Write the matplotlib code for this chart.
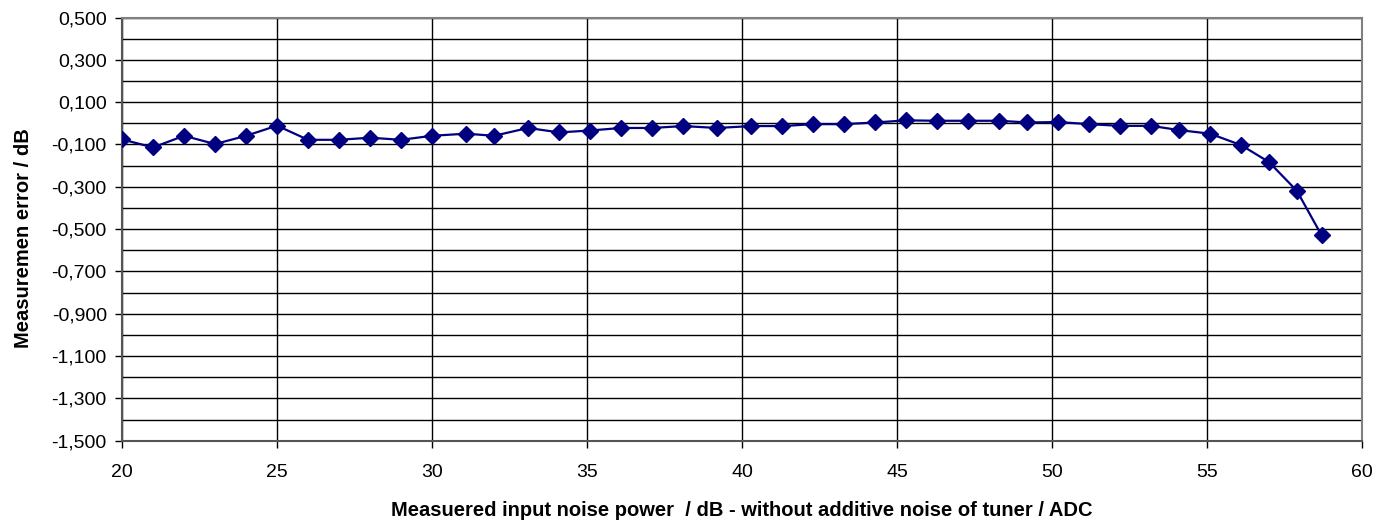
import matplotlib
matplotlib.use("Agg")
import matplotlib.pyplot as plt
from matplotlib.ticker import FuncFormatter, FixedLocator, MultipleLocator

# measured input noise power / dB
noise_power = [20.0, 21.0, 22.0, 23.0, 24.0, 25.0, 26.0, 27.0, 28.0, 29.0,
               30.0, 31.1, 32.0, 33.1, 34.1, 35.1, 36.1, 37.1, 38.1, 39.2,
               40.3, 41.3, 42.3, 43.3, 44.3, 45.3, 46.3, 47.3, 48.3, 49.2,
               50.2, 51.2, 52.2, 53.2, 54.1, 55.1, 56.1, 57.0, 57.9, 58.7]

# measurement error / dB
meas_error = [-0.076, -0.114, -0.059, -0.098, -0.059, -0.011, -0.078, -0.078, -0.068, -0.078,
              -0.059, -0.049, -0.059, -0.022, -0.043, -0.034, -0.022, -0.022, -0.013, -0.022,
              -0.013, -0.013, -0.004, -0.004, 0.004, 0.014, 0.012, 0.012, 0.012, 0.004,
              0.006, -0.004, -0.012, -0.012, -0.032, -0.049, -0.103, -0.183, -0.319, -0.530]

# labelled y ticks (odd tenths), grid lines every 0.1
y_ticks = [-1.5, -1.3, -1.1, -0.9, -0.7, -0.5, -0.3, -0.1, 0.1, 0.3, 0.5]
x_ticks = [20, 25, 30, 35, 40, 45, 50, 55, 60]

plt.rcParams['font.family'] = ['Liberation Sans', 'DejaVu Sans']

fig = plt.figure(figsize=(13.76, 5.23), dpi=100)
ax = fig.add_axes([0.0887, 0.1574, 0.9011, 0.8091])

ax.plot(noise_power, meas_error, color='#000080', linewidth=1.6,
        marker='D', markersize=8, zorder=3)

ax.set_xlim(20, 60)
ax.set_ylim(-1.5, 0.5)

ax.xaxis.set_major_locator(FixedLocator(x_ticks))
ax.yaxis.set_major_locator(FixedLocator(y_ticks))
ax.yaxis.set_minor_locator(MultipleLocator(0.1))
ax.yaxis.set_major_formatter(FuncFormatter(lambda v, p: ('%.3f' % v).replace('.', ',')))

# Excel style grid: every 0.1 on y, every 5 on x
ax.grid(True, which='both', axis='y', color='black', linewidth=1.0)
ax.grid(True, which='major', axis='x', color='black', linewidth=1.0)
ax.set_axisbelow(True)

ax.tick_params(axis='both', which='major', labelsize=14, direction='out',
               length=5, width=1, color='black')
ax.tick_params(axis='y', which='minor', length=0)
ax.tick_params(axis='x', pad=12)
ax.tick_params(axis='y', pad=6)

for side in ['left', 'bottom']:
    ax.spines[side].set_color('#555555')
    ax.spines[side].set_linewidth(1.5)
for side in ['top', 'right']:
    ax.spines[side].set_color('#808080')
    ax.spines[side].set_linewidth(1.5)

ax.set_ylabel('Measuremen error / dB', fontsize=14.5, fontweight='bold')
ax.set_xlabel('Measuered input noise power  / dB - without additive noise of tuner / ADC',
              fontsize=14.5, fontweight='bold')
ax.yaxis.set_label_coords(-0.0718, 0.478)
ax.xaxis.set_label_coords(0.5, -0.143)

fig.savefig('out.png', dpi=100)
